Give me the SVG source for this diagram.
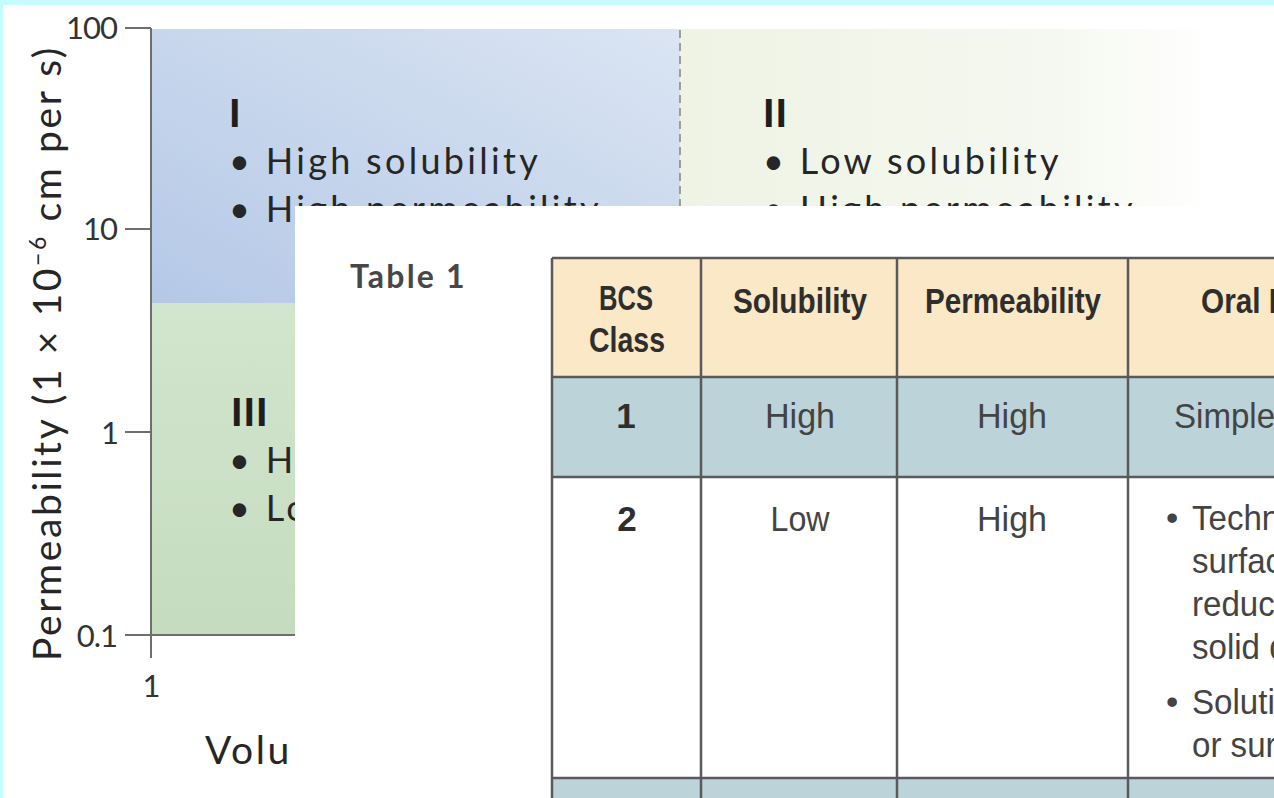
<svg xmlns="http://www.w3.org/2000/svg" width="1274" height="798" viewBox="0 0 1274 798">
<defs>
<style>
.ch{font-family:Lato,"Open Sans",sans-serif;fill:#262626;font-size:36px;letter-spacing:3.3px}
.at{font-family:Lato,"Open Sans",sans-serif;fill:#262626;font-size:39px;letter-spacing:2.6px}
.rn{font-family:Lato,"Open Sans",sans-serif;fill:#1e1e1e;font-size:38px;font-weight:900;letter-spacing:1px}
.tk{font-family:Lato,"Open Sans",sans-serif;fill:#333;font-size:31px;letter-spacing:-1px}
.ax{stroke:#6e6e6e;stroke-width:2;fill:none}
.th{font-family:"Liberation Sans",Arial,sans-serif;font-weight:bold;font-size:35px;fill:#2e2e2e}
.td{font-family:"Liberation Sans",Arial,sans-serif;font-size:35px;fill:#444}
.grid{stroke:#5a5a5a;stroke-width:2.5;fill:none}
</style>
<linearGradient id="gI" x1="0" y1="1" x2="1" y2="0">
<stop offset="0" stop-color="#b4c8e6"/>
<stop offset="1" stop-color="#dbe5f3"/>
</linearGradient>
<linearGradient id="gII" x1="0" y1="0" x2="1" y2="0">
<stop offset="0" stop-color="#eef3e4"/>
<stop offset="0.7" stop-color="#f5f8f0"/>
<stop offset="1" stop-color="#ffffff"/>
</linearGradient>
<linearGradient id="gIII" x1="0" y1="0" x2="0" y2="1">
<stop offset="0" stop-color="#d2e5ce"/>
<stop offset="1" stop-color="#c5dcbf"/>
</linearGradient>
</defs>
<rect x="0" y="0" width="1274" height="798" fill="#ffffff"/>
<rect x="0" y="0" width="1274" height="5" fill="#c4fbfe"/>
<rect x="0" y="0" width="3" height="798" fill="#c4fbfe"/>
<g id="chart">
<rect id="regionI" x="151" y="29" width="529" height="274" fill="url(#gI)"/>
<rect id="regionII" x="680" y="29" width="535" height="274" fill="url(#gII)"/>
<rect id="regionIII" x="151" y="303" width="529" height="332" fill="url(#gIII)"/>
<line x1="680" y1="30" x2="680" y2="300" stroke="#8a8a8a" stroke-width="1.6" stroke-dasharray="8 5"/>
<g id="axes">
<line class="ax" x1="151" y1="28" x2="151" y2="658"/>
<line class="ax" x1="125" y1="28" x2="151" y2="28"/>
<line class="ax" x1="125" y1="229" x2="151" y2="229"/>
<line class="ax" x1="125" y1="432" x2="151" y2="432"/>
<line class="ax" x1="125" y1="635" x2="680" y2="635"/>
<text class="tk" x="117" y="39" text-anchor="end">100</text>
<text class="tk" x="117" y="240" text-anchor="end">10</text>
<text class="tk" x="118" y="444" text-anchor="end">1</text>
<text class="tk" x="117" y="647" text-anchor="end">0.1</text>
<text class="tk" x="151" y="697" text-anchor="middle">1</text>
<text class="at" x="205" y="764">Volu</text>
<text class="at" transform="translate(61,353) rotate(-90)" text-anchor="middle">Permeability (1 × 10<tspan font-size="23" dy="-15">−6</tspan><tspan dy="15"> cm per s)</tspan></text>
</g>
<g id="class-I">
<text class="rn" x="229" y="127">I</text>
<text class="ch" x="229" y="174">• High solubility</text>
<text class="ch" x="229" y="222">• High permeability</text>
</g>
<g id="class-II">
<text class="rn" x="763" y="127">II</text>
<text class="ch" x="763" y="174">• Low solubility</text>
<text class="ch" x="763" y="222">• High permeability</text>
</g>
<g id="class-III">
<text class="rn" x="231" y="426">III</text>
<text class="ch" x="229" y="473">• H</text>
<text class="ch" x="229" y="521">• Lo</text>
</g>
</g>
<g id="table-sheet">
<rect x="295" y="206" width="979" height="592" fill="#ffffff"/>
<text x="350" y="288" font-family="Lato,'Open Sans',sans-serif" font-weight="bold" font-size="32" fill="#474747" letter-spacing="2.2">Table 1</text>
<g id="table">
<rect x="552" y="258" width="722" height="119" fill="#fbe8c6"/>
<rect x="552" y="377" width="722" height="100" fill="#bcd3da"/>
<rect x="552" y="778" width="722" height="20" fill="#bcd3da"/>
<g class="grid">
<line x1="552" y1="258" x2="1274" y2="258"/>
<line x1="552" y1="377" x2="1274" y2="377"/>
<line x1="552" y1="477" x2="1274" y2="477"/>
<line x1="552" y1="778" x2="1274" y2="778"/>
<line x1="552" y1="258" x2="552" y2="798"/>
<line x1="701" y1="258" x2="701" y2="798"/>
<line x1="897" y1="258" x2="897" y2="798"/>
<line x1="1128" y1="258" x2="1128" y2="798"/>
</g>
<g id="header">
<text class="th" x="626" y="310" text-anchor="middle" textLength="54" lengthAdjust="spacingAndGlyphs">BCS</text>
<text class="th" x="627" y="352" text-anchor="middle" textLength="76" lengthAdjust="spacingAndGlyphs">Class</text>
<text class="th" x="800" y="313" text-anchor="middle" textLength="134" lengthAdjust="spacingAndGlyphs">Solubility</text>
<text class="th" x="1013" y="313" text-anchor="middle" textLength="176" lengthAdjust="spacingAndGlyphs">Permeability</text>
<text class="th" transform="translate(1201 313) scale(0.85 1)">Oral D</text>
</g>
<g id="row1">
<text class="th" x="626" y="428" text-anchor="middle">1</text>
<text class="td" x="800" y="428" text-anchor="middle" textLength="70" lengthAdjust="spacingAndGlyphs">High</text>
<text class="td" x="1012" y="428" text-anchor="middle" textLength="70" lengthAdjust="spacingAndGlyphs">High</text>
<text class="td" transform="translate(1174 428) scale(0.945 1)">Simple</text>
</g>
<g id="row2">
<text class="th" x="627" y="531" text-anchor="middle">2</text>
<text class="td" x="800" y="531" text-anchor="middle" textLength="59" lengthAdjust="spacingAndGlyphs">Low</text>
<text class="td" x="1012" y="531" text-anchor="middle" textLength="70" lengthAdjust="spacingAndGlyphs">High</text>
<text class="td" x="1166" y="530">•</text>
<text class="td" x="1166" y="714">•</text>
<g transform="translate(1192 0) scale(0.945 1)">
<text class="td" x="0" y="530">Techn</text>
<text class="td" x="0" y="573">surfac</text>
<text class="td" x="0" y="616">reduc</text>
<text class="td" x="0" y="659">solid d</text>
<text class="td" x="0" y="714">Soluti</text>
<text class="td" x="0" y="757">or sur</text>
</g>
</g>
</g>
</g>
</svg>
